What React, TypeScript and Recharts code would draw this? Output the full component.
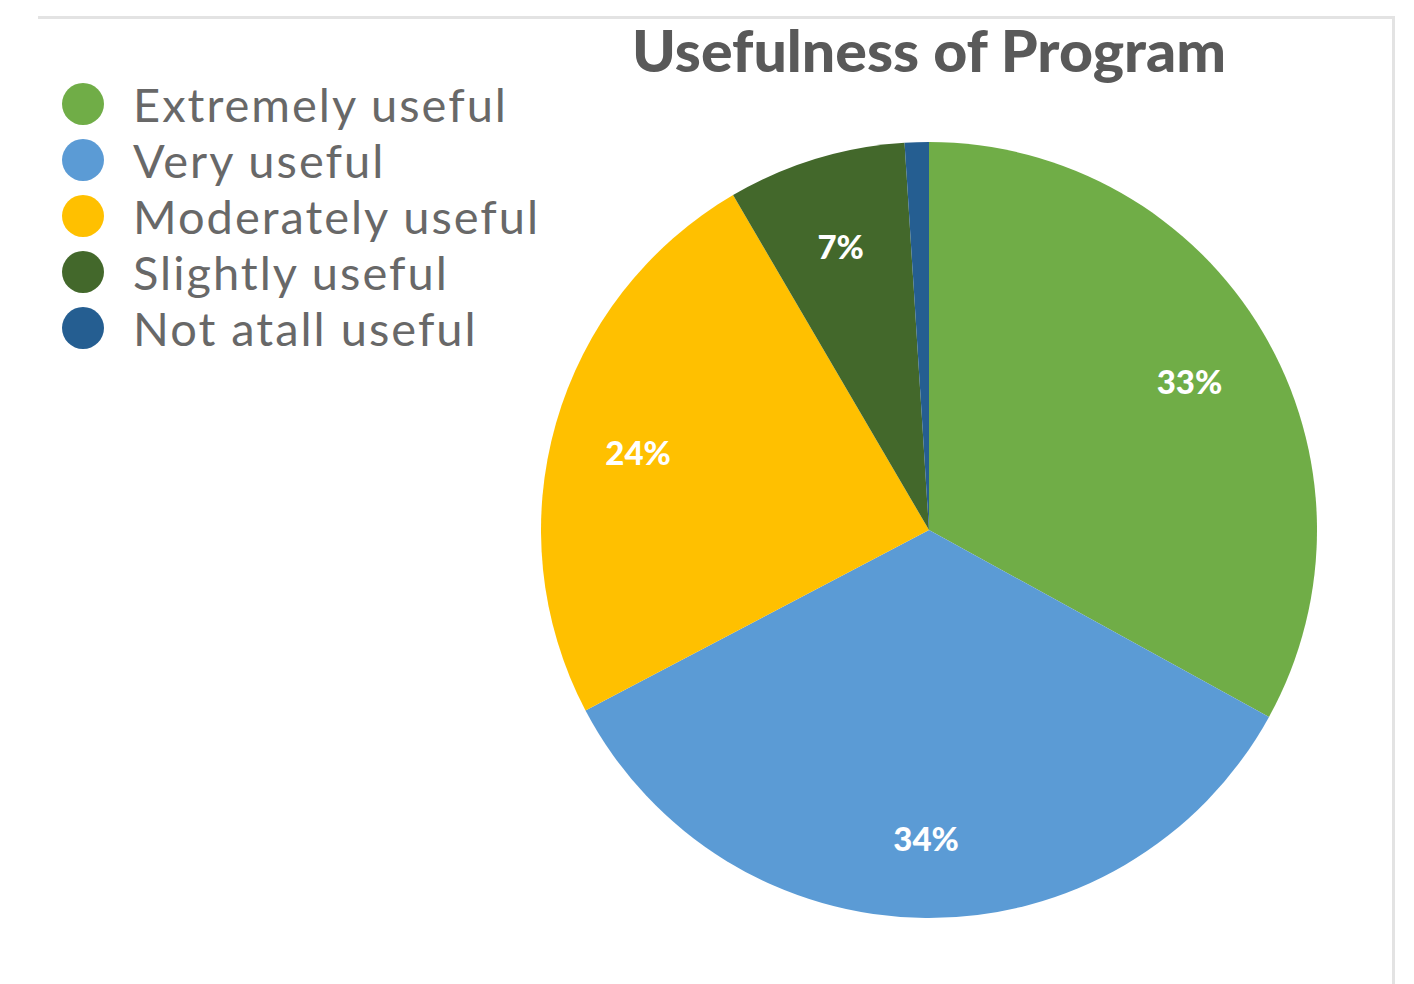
import React from 'react';
import { PieChart, Pie, Cell } from 'recharts';

const categories = ['Extremely useful', 'Very useful', 'Moderately useful', 'Slightly useful', 'Not atall useful'];
const shares = [32.9, 34.2, 24.2, 7.4, 1.0];
const colors = ['#70AD47', '#5B9BD5', '#FFC000', '#43682B', '#255E91'];
const shownLabels = [true, true, true, true, false];

const data = categories.map((name, i) => ({ name, value: shares[i] }));

const RADIAN = Math.PI / 180;

const renderLabel = (props: any) => {
  const { cx, cy, midAngle, outerRadius, index, value } = props;
  if (!shownLabels[index]) return null;
  const r = outerRadius * 0.78;
  const x = cx + r * Math.cos(-midAngle * RADIAN);
  const y = cy + r * Math.sin(-midAngle * RADIAN) + 5;
  return (
    <text
      x={x}
      y={y}
      fill="#ffffff"
      textAnchor="middle"
      dominantBaseline="central"
      fontFamily="Lato"
      fontWeight={900}
      fontSize={33}
    >
      {`${Math.round(value)}%`}
    </text>
  );
};

export default function App() {
  return (
    <div style={{ position: 'absolute', left: 0, top: 0, width: 1414, height: 984, background: '#fff' }}>
      <div
        style={{
          position: 'absolute',
          left: 38,
          top: 16,
          width: 1354,
          height: 968,
          borderTop: '3px solid #e3e3e3',
          borderRight: '3px solid #e3e3e3',
        }}
      />
      <div style={{ position: 'absolute', left: 62, top: 76 }}>
        {categories.map((name, i) => (
          <div key={name} style={{ display: 'flex', alignItems: 'center', height: 56 }}>
            <span
              style={{
                display: 'inline-block',
                width: 42,
                height: 42,
                borderRadius: '50%',
                background: colors[i],
                marginRight: 29,
              }}
            />
            <span
              style={{
                fontFamily: 'Lato',
                fontSize: 47,
                letterSpacing: 2,
                color: '#686868',
                lineHeight: '56px',
                whiteSpace: 'nowrap',
              }}
            >
              {name}
            </span>
          </div>
        ))}
      </div>
      <PieChart
        width={1414}
        height={984}
        margin={{ top: 0, right: 0, bottom: 0, left: 0 }}
        style={{ position: 'absolute', left: 0, top: 0 }}
      >
        <text
          x={929}
          y={72}
          textAnchor="middle"
          fontFamily="Lato"
          fontWeight={900}
          fontSize={58}
          fill="#595959"
          textLength={594}
          lengthAdjust="spacingAndGlyphs"
        >
          Usefulness of Program
        </text>
        <Pie
          data={data}
          dataKey="value"
          nameKey="name"
          cx={929}
          cy={530}
          outerRadius={388}
          startAngle={90}
          endAngle={-270}
          stroke="none"
          label={renderLabel}
          labelLine={false}
          isAnimationActive={false}
        >
          {data.map((d, i) => (
            <Cell key={d.name} fill={colors[i]} />
          ))}
        </Pie>
      </PieChart>
    </div>
  );
}
